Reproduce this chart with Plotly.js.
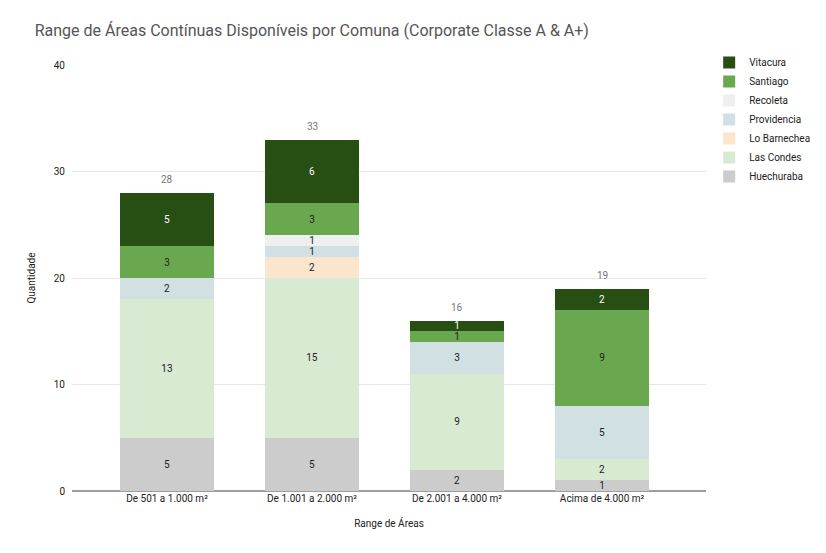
<!DOCTYPE html>
<html>
<head>
<meta charset="utf-8">
<script src="https://cdn.plot.ly/plotly-3.0.1.min.js"></script>
<style>body{margin:0;background:#fff}#chart{width:826px;height:553px}</style>
</head>
<body>
<div id="chart"></div>
<script>
var categories = ['De 501 a 1.000 m²', 'De 1.001 a 2.000 m²', 'De 2.001 a 4.000 m²', 'Acima de 4.000 m²'];

var huechuraba = [5, 5, 2, 1];
var lasCondes = [13, 15, 9, 2];
var loBarnechea = [0, 2, 0, 0];
var providencia = [2, 1, 3, 5];
var recoleta = [0, 1, 0, 0];
var santiago = [3, 3, 1, 9];
var vitacura = [5, 6, 1, 2];

var series = [
    {name: 'Huechuraba', y: huechuraba, color: '#cccccc', txt: '#222222'},
    {name: 'Las Condes', y: lasCondes, color: '#d9ead3', txt: '#222222'},
    {name: 'Lo Barnechea', y: loBarnechea, color: '#fce5cd', txt: '#222222'},
    {name: 'Providencia', y: providencia, color: '#d0e0e3', txt: '#222222'},
    {name: 'Recoleta', y: recoleta, color: '#efefef', txt: '#222222'},
    {name: 'Santiago', y: santiago, color: '#6aa84f', txt: '#222222'},
    {name: 'Vitacura', y: vitacura, color: '#274e13', txt: '#ffffff'}
];

var data = [];
for (var i = 0; i < series.length; i++) {
    var s = series[i];
    data.push({
        type: 'bar',
        name: s.name,
        x: categories,
        y: s.y,
        width: 0.65,
        text: s.y.map(function(v){ return v ? String(v) : ''; }),
        textposition: 'inside',
        insidetextanchor: 'middle',
        textangle: 0,
        constraintext: 'none',
        textfont: {family: 'Roboto', size: 10, color: s.txt},
        marker: {color: s.color, line: {width: 0}},
        hoverinfo: 'none'
    });
}

// totals above each bar
var totals = [];
for (var c = 0; c < categories.length; c++) {
    var t = 0;
    for (var k = 0; k < series.length; k++) t += series[k].y[c];
    totals.push(t);
}
var annotations = totals.map(function(t, c){
    return {
        x: categories[c], y: t, xref: 'x', yref: 'y',
        text: String(t), showarrow: false,
        yanchor: 'bottom', yshift: 6,
        font: {family: 'Roboto', size: 10, color: '#757575'}
    };
});

var layout = {
    width: 826,
    height: 553,
    barmode: 'stack',
    paper_bgcolor: '#ffffff',
    plot_bgcolor: '#ffffff',
    margin: {l: 72, r: 120, t: 65, b: 62, autoexpand: false},
    font: {family: 'Roboto', color: '#222222', size: 10},
    title: {
        text: 'Range de Áreas Contínuas Disponíveis por Comuna (Corporate Classe A & A+)',
        font: {family: 'Roboto', size: 16, color: '#555555'},
        x: 0.042, xanchor: 'left', xref: 'container',
        y: 0.955, yanchor: 'top', yref: 'container'
    },
    annotations: annotations,
    xaxis: {
        type: 'category',
        range: [-0.655, 3.717],
        showgrid: false,
        ticks: '',
        tickfont: {family: 'Roboto', size: 10, color: '#222222'},
        title: {text: 'Range de Áreas', font: {family: 'Roboto', size: 10, color: '#222222'}, standoff: 16}
    },
    yaxis: {
        range: [0, 40],
        dtick: 10,
        gridcolor: '#e6e6e6',
        zeroline: true,
        zerolinecolor: '#9e9e9e',
        zerolinewidth: 1.5,
        ticks: '',
        ticklabelstandoff: 6,
        tickfont: {family: 'Roboto', size: 10, color: '#222222'},
        title: {text: 'Quantidade', font: {family: 'Roboto', size: 10, color: '#222222'}, standoff: 16}
    },
    legend: {
        x: 1.005, xanchor: 'left',
        y: 1.04, yanchor: 'top',
        font: {family: 'Roboto', size: 10, color: '#222222'},
        itemwidth: 30,
        tracegroupgap: 0
    },
    showlegend: true
};

Plotly.newPlot('chart', data, layout, {displayModeBar: false, staticPlot: true});
</script>
</body>
</html>
